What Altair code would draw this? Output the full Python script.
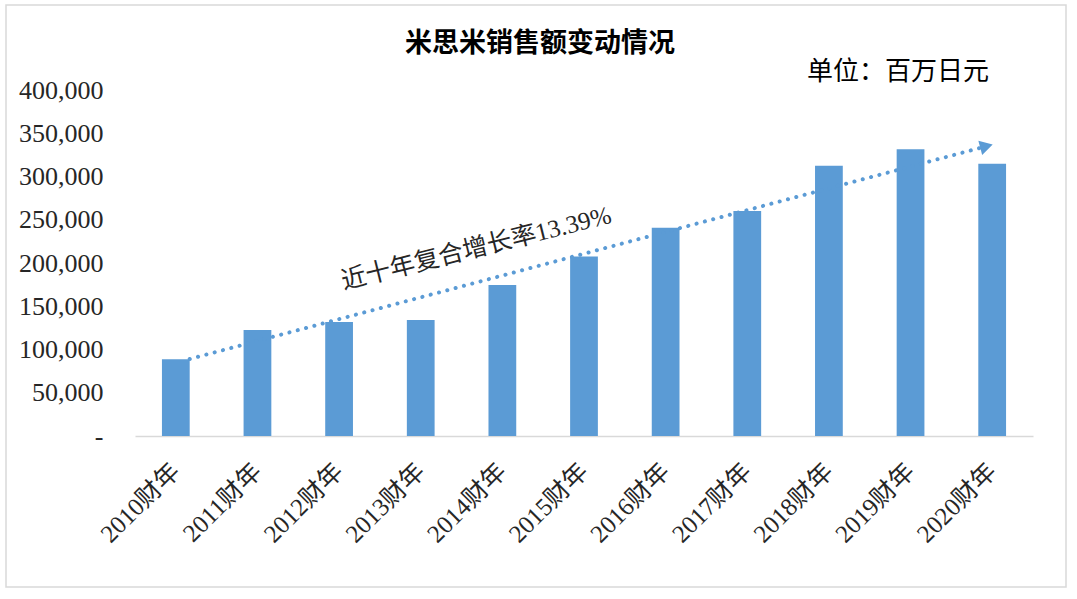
import altair as alt
import pandas as pd

# ---- data ----
years = ["2010财年", "2011财年", "2012财年", "2013财年", "2014财年", "2015财年",
         "2016财年", "2017财年", "2018财年", "2019财年", "2020财年"]
sales = [88700, 122500, 131800, 134100, 174600, 207500, 240800, 260100, 312500, 331400, 314800]

# trend arrow (category index position, value)
trend_idx = [0.17, 9.93]
trend_val = [89000, 335000]
trend_label = "近十年复合增长率13.39%"
label_idx = [3.68]
label_val = [217000]

title_text = "米思米销售额变动情况"
unit_text = "单位：百万日元"

BLUE = "#5b9bd5"
SERIF = "Liberation Serif, Noto Sans CJK SC"
SANS = "Noto Sans CJK SC"

W, H = 898, 346
yscale = alt.Scale(domain=[0, 400000], nice=False)

bars_df = pd.DataFrame({"year": years, "sales": sales})
trend_df = pd.DataFrame({"idx": trend_idx, "val": trend_val})
arrow_df = trend_df.tail(1)
label_df = pd.DataFrame({"idx": label_idx, "val": label_val, "t": [trend_label]})

bars = alt.Chart(bars_df).mark_bar(color=BLUE).encode(
    x=alt.X("year:N", sort=years, title=None,
            scale=alt.Scale(paddingInner=0.66, paddingOuter=0.33),
            axis=alt.Axis(labelAngle=-45, labelAlign="right", labelBaseline="middle",
                          labelFont=SERIF, labelFontSize=25, labelColor="#262626",
                          labelPadding=31, ticks=False, tickSize=0,
                          domainColor="#d9d9d9", domainWidth=1.5)),
    y=alt.Y("sales:Q", scale=yscale, title=None,
            axis=alt.Axis(values=[0, 50000, 100000, 150000, 200000, 250000, 300000, 350000, 400000],
                          labelExpr="datum.value == 0 ? '-\u00a0\u00a0' : format(datum.value, ',')",
                          labelFont=SERIF, labelFontSize=26, labelColor="#262626",
                          labelPadding=32, ticks=False, tickSize=0, domain=False, grid=False)),
)

xq = alt.Scale(domain=[-0.5, 10.5], nice=False, zero=False)

trend = alt.Chart(trend_df).mark_line(
    color=BLUE, strokeWidth=4, strokeDash=[0.1, 8.5], strokeCap="round"
).encode(
    x=alt.X("idx:Q", scale=xq, axis=None),
    y=alt.Y("val:Q", scale=yscale),
)

arrow = alt.Chart(arrow_df).mark_point(
    shape="triangle-right", filled=True, color=BLUE, opacity=1, size=220, angle=345
).encode(
    x=alt.X("idx:Q", scale=xq, axis=None),
    y=alt.Y("val:Q", scale=yscale),
)

label = alt.Chart(label_df).mark_text(
    font=SERIF, fontSize=25, color="#262626", angle=346, align="center", baseline="middle"
).encode(
    x=alt.X("idx:Q", scale=xq, axis=None),
    y=alt.Y("val:Q", scale=yscale),
    text="t:N",
)

title = alt.Chart(pd.DataFrame({"t": [title_text]})).mark_text(
    font=SANS, fontSize=27, fontWeight="bold", color="#000000", align="center", baseline="middle"
).encode(x=alt.value(405), y=alt.value(-46), text="t:N")

unit = alt.Chart(pd.DataFrame({"t": [unit_text]})).mark_text(
    font=SANS, fontSize=26, color="#000000", align="left", baseline="middle"
).encode(x=alt.value(672), y=alt.value(-18), text="t:N")

frame = alt.Chart(pd.DataFrame({"t": [0]})).mark_rect(
    fill=None, stroke="#d9d9d9", strokeWidth=1.5
).encode(x=alt.value(-129), x2=alt.value(931), y=alt.value(-85), y2=alt.value(497))

chart = alt.layer(frame, bars, trend, arrow, label, title, unit).resolve_scale(
    x="independent"
).properties(
    width=W, height=H,
    autosize=alt.AutoSizeParams(type="none"),
    padding={"left": 135, "top": 90, "right": 44, "bottom": 163},
    background="white",
).configure_view(stroke=None)

chart.save("out.html", embed_options={"renderer": "svg", "actions": False})
